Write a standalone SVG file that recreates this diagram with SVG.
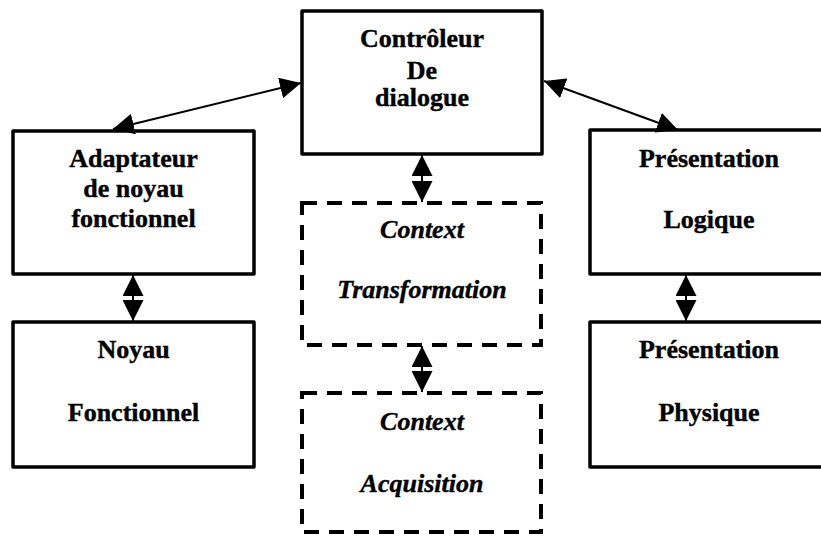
<svg xmlns="http://www.w3.org/2000/svg" width="821" height="537" viewBox="0 0 821 537">
  <style>
    .box { fill: #fff; stroke: #000; stroke-width: 3.5; stroke-linejoin: round; }
    .ctx { fill: #fff; stroke: #000; stroke-width: 4; stroke-dasharray: 15 10; }
    .link { stroke: #000; stroke-width: 2; fill: none; marker-start: url(#head); marker-end: url(#head); }
  </style>
  <defs>
    <marker id="head" markerUnits="userSpaceOnUse" markerWidth="22" markerHeight="21" refX="21" refY="10.5" orient="auto-start-reverse">
      <path d="M0,0 L21,10.5 L0,21 Z" fill="#000"/>
    </marker>
  </defs>
  <rect width="821" height="537" fill="#fff"/>

  <g font-family="Liberation Serif, Times New Roman, serif" font-size="26" font-weight="700" text-anchor="middle" fill="#000" stroke="#000" stroke-width="0.4">
    <g id="controleur">
      <rect class="box" x="302" y="11" width="240" height="143"/>
      <text x="422" y="47">Contrôleur</text>
      <text x="422" y="79">De</text>
      <text x="422" y="106">dialogue</text>
    </g>

    <g id="adaptateur">
      <rect class="box" x="13" y="131" width="241" height="143"/>
      <text x="133.5" y="167">Adaptateur</text>
      <text x="133.5" y="197">de noyau</text>
      <text x="133.5" y="227">fonctionnel</text>
    </g>

    <g id="noyau">
      <rect class="box" x="13" y="322" width="241" height="145"/>
      <text x="133.5" y="358">Noyau</text>
      <text x="133.5" y="421">Fonctionnel</text>
    </g>

    <g id="presentation-logique">
      <rect class="box" x="590" y="130" width="240" height="144"/>
      <text x="709" y="167">Présentation</text>
      <text x="709" y="228">Logique</text>
    </g>

    <g id="presentation-physique">
      <rect class="box" x="590" y="322" width="240" height="145"/>
      <text x="709" y="358">Présentation</text>
      <text x="709" y="421">Physique</text>
    </g>

    <g id="context-transformation" font-style="italic">
      <rect class="ctx" x="302" y="203" width="239" height="142"/>
      <text x="422" y="238">Context</text>
      <text x="422" y="298">Transformation</text>
    </g>

    <g id="context-acquisition" font-style="italic">
      <rect class="ctx" x="302" y="393" width="239" height="139"/>
      <text x="422" y="430">Context</text>
      <text x="422" y="492">Acquisition</text>
    </g>
  </g>

  <g id="connectors">
    <line class="link" x1="113" y1="129" x2="301" y2="83"/>
    <line class="link" x1="544" y1="81" x2="678" y2="130"/>
    <line class="link" x1="422" y1="155" x2="422" y2="202"/>
    <line class="link" x1="422" y1="346" x2="422" y2="392"/>
    <line class="link" x1="133" y1="275" x2="133" y2="321"/>
    <line class="link" x1="686" y1="275" x2="686" y2="321"/>
  </g>
</svg>
